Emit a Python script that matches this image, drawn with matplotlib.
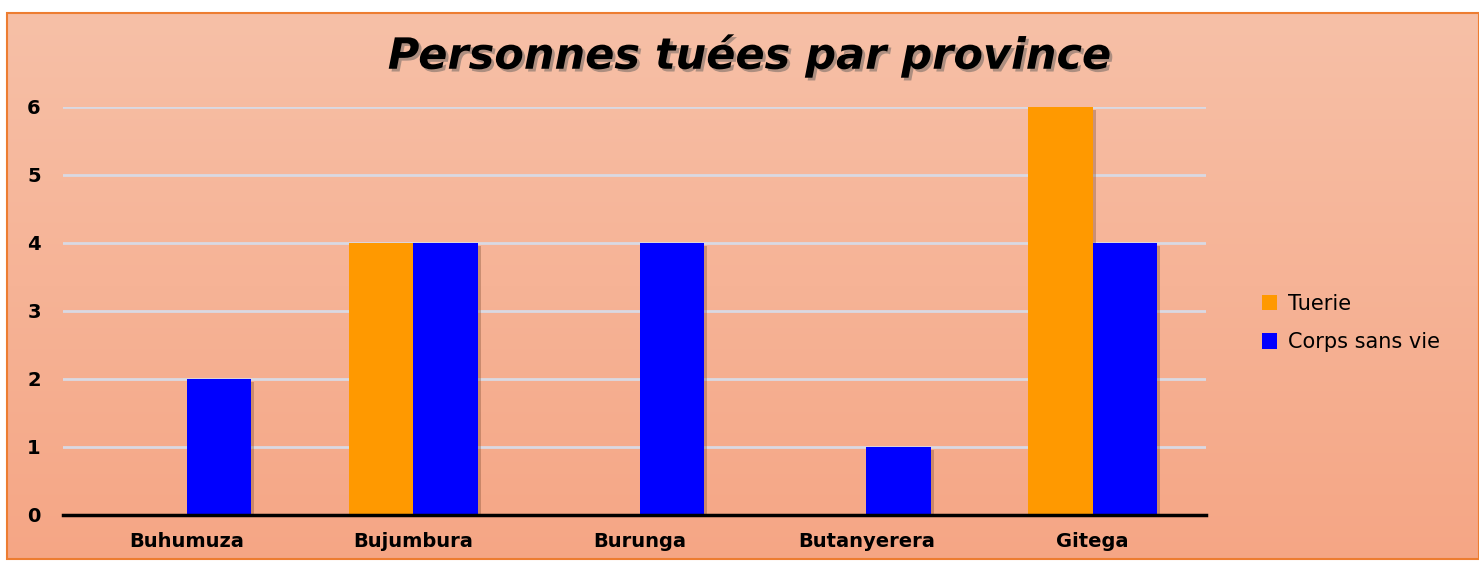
import numpy as np
import matplotlib
matplotlib.use("Agg")
import matplotlib.pyplot as plt
import matplotlib.patheffects as pe
from matplotlib.patches import Rectangle

provinces = ["Buhumuza", "Bujumbura", "Burunga", "Butanyerera", "Gitega"]
tuerie = [0, 4, 0, 0, 6]
corps_sans_vie = [2, 4, 4, 1, 4]
series_names = ["Tuerie", "Corps sans vie"]
title = "Personnes tuées par province"

W, H = 1479, 561
fig = plt.figure(figsize=(W / 100, H / 100), dpi=100)
fig.patch.set_facecolor("white")

# gradient chart background with orange border
bg = fig.add_axes([7 / W, 1 - 559 / H, (W - 7) / W, (559 - 13) / H])
bg.set_axis_off()
top = np.array([247, 192, 167]) / 255
bot = np.array([245, 166, 133]) / 255
t = np.linspace(0, 1, 256)[:, None]
grad = (top[None, :] * (1 - t) + bot[None, :] * t)[:, None, :]
bg.imshow(grad, aspect="auto", extent=[0, 1, 0, 1])
bg.add_patch(Rectangle((0, 0), 1, 1, fill=False, edgecolor="#ED7D31",
                       linewidth=1.5, transform=bg.transAxes, clip_on=False))
bg.set_xlim(0, 1)
bg.set_ylim(0, 1)

ax = fig.add_axes([63 / W, 1 - 515 / H, (1206 - 63) / W, (515 - 107) / H])
ax.patch.set_alpha(0)

x = np.arange(len(provinces))
bw = 0.285
shadow = [pe.SimplePatchShadow(offset=(2, -2), shadow_rgbFace="#7a4a30", alpha=0.35), pe.Normal()]
b1 = ax.bar(x - bw / 2, tuerie, bw, color="#FF9900", label=series_names[0], zorder=3)
b2 = ax.bar(x + bw / 2, corps_sans_vie, bw, color="#0000FF", label=series_names[1], zorder=3)
for b in list(b1) + list(b2):
    b.set_path_effects(shadow)

ax.set_xlim(-0.546, len(provinces) - 0.5)
ax.set_ylim(0, 6)
ax.set_yticks(range(0, 7))
ax.grid(axis="y", color="#D9D9E3", linewidth=2, zorder=0)
for s in ["top", "right", "left"]:
    ax.spines[s].set_visible(False)
ax.spines["bottom"].set_linewidth(2.5)
ax.spines["bottom"].set_zorder(4)
ax.tick_params(length=0)
ax.set_xticks(x)
ax.set_xticklabels(provinces, fontsize=14, fontweight="bold", family="DejaVu Sans")
ax.tick_params(axis="x", pad=12)
ax.tick_params(axis="y", pad=16)
for lab in ax.get_yticklabels():
    lab.set_fontsize(14)
    lab.set_fontweight("bold")
    lab.set_family("DejaVu Sans")

fig.text(749 / W, 1 - 56 / H, title, ha="center", va="center", fontsize=31,
         fontweight="bold", style="italic", family="DejaVu Sans",
         path_effects=[pe.withSimplePatchShadow(offset=(2, -2), shadow_rgbFace="#555555", alpha=0.45)])

leg = fig.legend(handles=[b1, b2], labels=series_names, loc="center left",
                 bbox_to_anchor=(1243 / W, 1 - 323 / H), frameon=False,
                 prop={"family": "DejaVu Sans", "size": 15}, handlelength=0.75,
                 handleheight=0.75, labelspacing=0.9, handletextpad=0.5)
for h in leg.legend_handles:
    h.set_path_effects([])

fig.savefig("out.png", dpi=100)
